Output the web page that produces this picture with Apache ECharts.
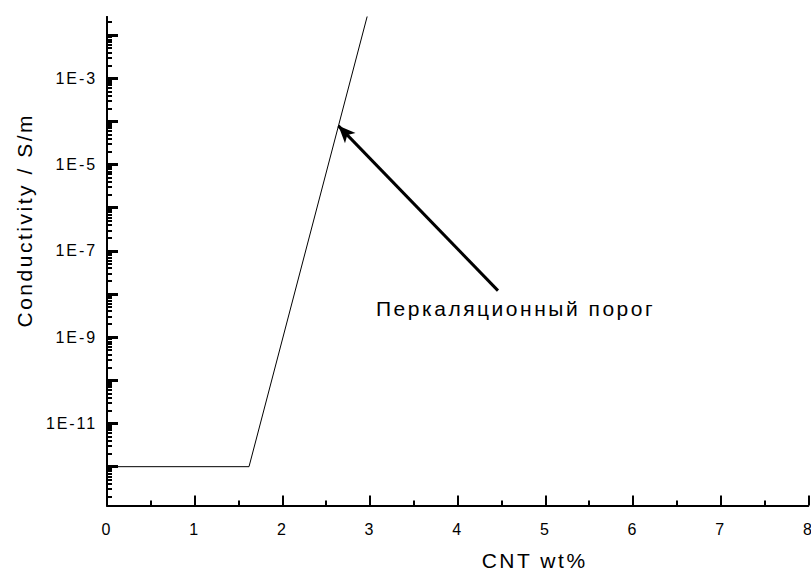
<!DOCTYPE html>
<html>
<head>
<meta charset="utf-8">
<script src="https://cdn.jsdelivr.net/npm/echarts@6/dist/echarts.min.js"></script>
<style>
  html, body { margin: 0; padding: 0; background: #fff; }
  #chart { width: 811px; height: 570px; }
  #chart text { letter-spacing: 0.12em; }
</style>
</head>
<body>
<div id="chart"></div>
<script>
// CNT loading (wt%) and measured conductivity (S/m)
const cntWt = [0, 1.62, 3.0];
const conductivity = [1e-12, 1e-12, 0.048];

// x-axis range
const xMin = 0, xMax = 8;

// y-axis (log) range, labelled decades and their text
const yMin = 1.26e-13, yMax = 0.0263;
const yLabelValues = [1e-3, 1e-5, 1e-7, 1e-9, 1e-11];
const yLabelTexts = ['1E-3', '1E-5', '1E-7', '1E-9', '1E-11'];

// percolation threshold annotation: arrow from the caption to the curve
const arrowFrom = [4.46, 1.2e-8];
const arrowTo = [2.64, 7.9e-5];
const caption = 'Перкаляционный порог';

const xName = 'CNT wt%';
const yName = 'Conductivity / S/m';

// decade ticks and 2..9 minor ticks for the log axis
const majorTicks = [];
const minorTicks = [];
for (let e = -13; e <= -1; e++) {
  majorTicks.push(Number('1e' + e));
  for (let k = 2; k <= 9; k++) minorTicks.push(Number(k + 'e' + e));
}

const font = "'Liberation Sans', Arial, sans-serif";
const chart = echarts.init(document.getElementById('chart'), null, { renderer: 'svg' });

const black = '#000';

chart.setOption({
  animation: false,
  backgroundColor: '#fff',
  grid: { left: 107, right: 2.7, top: 17, bottom: 64.5, containLabel: false, outerBoundsMode: 'none' },
  xAxis: {
    type: 'value',
    min: xMin,
    max: xMax,
    interval: 1,
    name: xName,
    nameLocation: 'middle',
    nameGap: 44,
    nameTextStyle: { fontFamily: font, fontSize: 21, color: black, padding: [0, 0, 0, 154] },
    axisLine: { show: true, lineStyle: { color: black, width: 2 } },
    axisTick: { show: true, inside: true, length: 10, lineStyle: { color: black, width: 2 } },
    minorTick: { show: true, splitNumber: 2, length: 5, lineStyle: { color: black, width: 2 } },
    axisLabel: { fontFamily: font, fontSize: 16, color: black, margin: 16, showMaxLabel: true },
    splitLine: { show: false }
  },
  yAxis: [{
    // labelled decade axis that carries the data
    type: 'log',
    logBase: 10,
    min: yMin,
    max: yMax,
    position: 'left',
    name: yName,
    nameLocation: 'middle',
    nameGap: 72,
    nameTextStyle: { fontFamily: font, fontSize: 21, color: black, padding: [0, 0, 0, 82] },
    axisLine: { show: true, lineStyle: { color: black, width: 2 } },
    axisTick: { show: true, inside: true, length: 11, customValues: majorTicks, lineStyle: { color: black, width: 3 } },
    axisLabel: {
      fontFamily: font, fontSize: 16, color: black, margin: 10,
      customValues: yLabelValues,
      formatter: function (v) {
        let best = 0, bestD = Infinity;
        yLabelValues.forEach(function (lv, i) {
          const d = Math.abs(Math.log10(lv) - Math.log10(v));
          if (d < bestD) { bestD = d; best = i; }
        });
        return yLabelTexts[best];
      }
    },
    splitLine: { show: false }
  }, {
    // overlay axis drawing the short 2..9 ticks inside each decade
    type: 'log',
    logBase: 10,
    min: yMin,
    max: yMax,
    position: 'left',
    offset: 0,
    axisLine: { show: true, lineStyle: { color: black, width: 2 } },
    axisTick: { show: true, inside: true, length: 5, customValues: minorTicks, lineStyle: { color: black, width: 2 } },
    axisLabel: { show: true, customValues: minorTicks, formatter: function () { return ''; } },
    splitLine: { show: false }
  }],
  series: [{
    type: 'line',
    xAxisIndex: 0,
    yAxisIndex: 0,
    data: cntWt.map(function (x, i) { return [x, conductivity[i]]; }),
    symbol: 'none',
    clip: true,
    lineStyle: { color: black, width: 1 },
    markLine: {
      silent: true,
      symbol: ['none', 'arrow'],
      symbolSize: [11, 17],
      label: { show: false },
      lineStyle: { color: black, width: 3, type: 'solid' },
      emphasis: { disabled: true },
      data: [[{ coord: arrowFrom }, { coord: arrowTo }]]
    }
  }],
  graphic: [{
    type: 'text',
    left: 376,
    top: 298,
    style: { text: caption, font: '21px ' + font, fill: black }
  }]
});
</script>
</body>
</html>
